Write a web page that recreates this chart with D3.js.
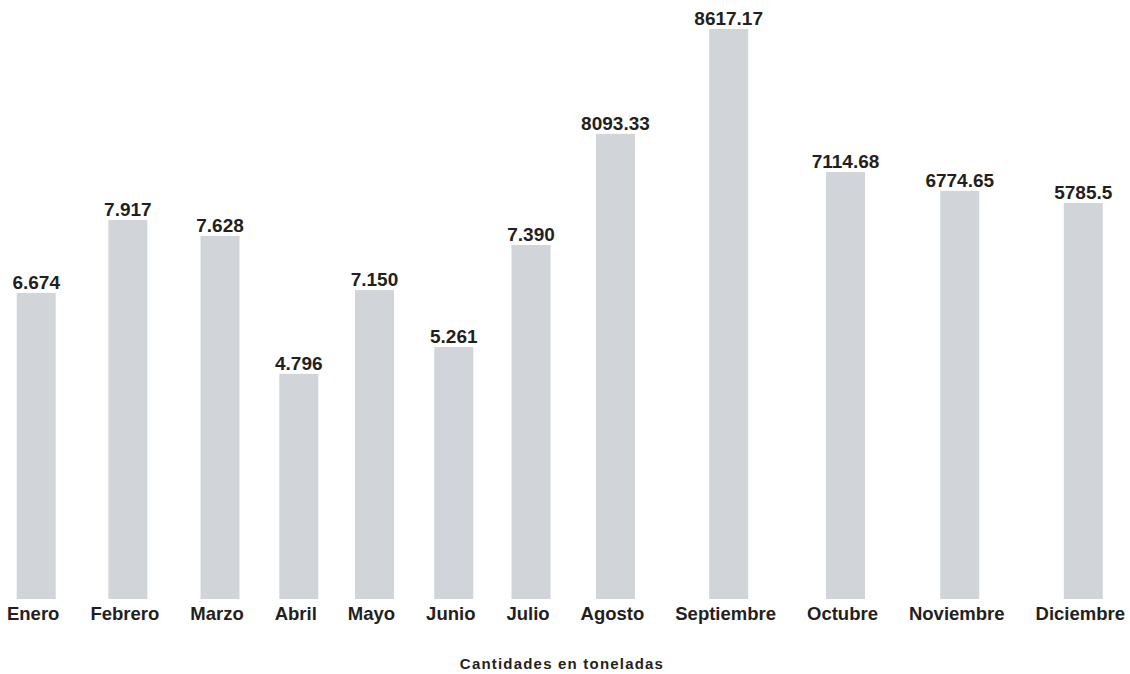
<!DOCTYPE html>
<html>
<head>
<meta charset="utf-8">
<script src="https://cdn.jsdelivr.net/npm/d3@7/dist/d3.min.js"></script>
<style>
  html, body { margin: 0; padding: 0; background: #ffffff; }
  svg { display: block; }
  text { font-family: "Liberation Sans", Arial, Helvetica, sans-serif; font-weight: bold; fill: #231f20; }
</style>
</head>
<body>
<svg id="chart" width="1130" height="674"></svg>
<script>
// ---- data ----
const months = ["Enero", "Febrero", "Marzo", "Abril", "Mayo", "Junio", "Julio",
                "Agosto", "Septiembre", "Octubre", "Noviembre", "Diciembre"];
const values = [6674, 7917, 7628, 4796, 7150, 5261, 7390,
                8093.33, 8617.17, 7114.68, 6774.65, 5785.5];
const valueLabels = ["6.674", "7.917", "7.628", "4.796", "7.150", "5.261", "7.390",
                     "8093.33", "8617.17", "7114.68", "6774.65", "5785.5"];
// drawn bar length, as % of the tallest bar (the graphic is not drawn to a common scale)
const barLevels = [53.7, 66.5, 63.7, 39.5, 54.2, 44.2, 62.1, 81.6, 100, 74.9, 71.6, 69.5];
const caption = "Cantidades en toneladas";

// ---- layout ----
const W = 1130, H = 674;
const baseY = 599, topY = 29;
const barW = 39;
const gap = 31;
const labelsLeft = 7, labelsRight = 1125;

const svg = d3.select("#chart");

// month labels first (their widths set each category's slot)
const monthG = svg.append("g");
const monthText = monthG.selectAll("text").data(months).join("text")
  .attr("text-anchor", "middle")
  .attr("y", 620)
  .style("font-size", "18.5px")
  .text(d => d);

const widths = [];
monthText.each(function () { widths.push(this.getComputedTextLength()); });
const slots = widths.map(w => w + gap);
const cum = [];
slots.reduce((acc, s, i) => { cum.push(acc + s / 2); return acc + s; }, 0);
const total = d3.sum(slots);

const x = d3.scaleLinear()
  .domain([0, total])
  .range([labelsLeft - gap / 2, labelsRight + gap / 2]);

monthText.attr("x", (d, i) => x(cum[i]));

const y = d3.scaleLinear().domain([0, 100]).range([baseY, topY]);

svg.append("g").selectAll("rect").data(barLevels).join("rect")
  .attr("x", (d, i) => x(cum[i]) - barW / 2 + 3)
  .attr("width", barW)
  .attr("y", d => y(d))
  .attr("height", d => y(0) - y(d))
  .attr("fill", "#d1d4d8");

svg.append("g").selectAll("text").data(valueLabels).join("text")
  .attr("text-anchor", "middle")
  .attr("x", (d, i) => x(cum[i]) + 3)
  .attr("y", (d, i) => y(barLevels[i]) - 4)
  .style("font-size", "19px")
  .text(d => d);

svg.append("text")
  .attr("x", 562)
  .attr("y", 669)
  .attr("text-anchor", "middle")
  .style("font-size", "15px")
  .style("letter-spacing", "1.2px")
  .text(caption);
</script>
</body>
</html>
